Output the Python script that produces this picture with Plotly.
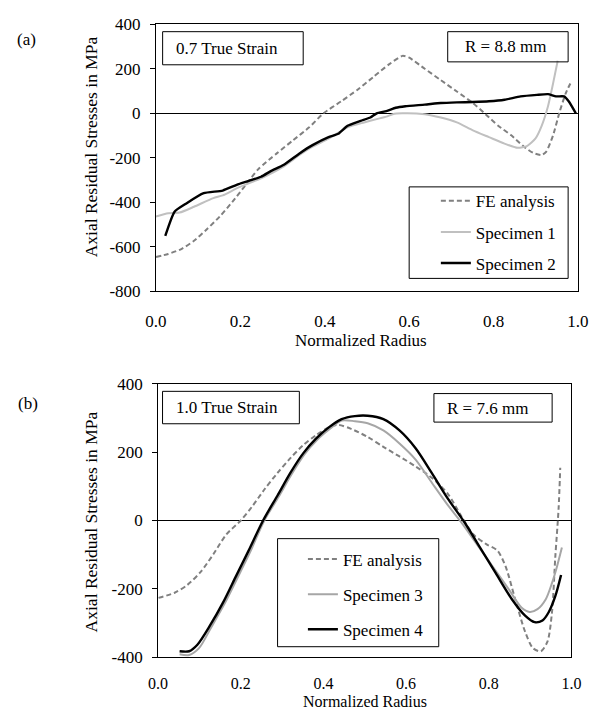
import plotly.graph_objects as go

# ---- panel (a): 0.7 true strain, R = 8.8 mm ----
fe_a_x = [0.0, 0.029, 0.06, 0.09, 0.12, 0.151, 0.181, 0.211, 0.242, 0.287, 0.325, 0.363, 0.397,
          0.439, 0.477, 0.515, 0.553, 0.584, 0.599, 0.637, 0.675, 0.713, 0.751, 0.781, 0.811,
          0.842, 0.872, 0.895, 0.914, 0.925, 0.941, 0.956, 0.971, 0.982]
fe_a_y = [-646, -632, -610, -573, -522, -464, -398, -326, -252, -179, -121, -63, 0,
          54, 105, 163, 221, 258, 251, 200, 149, 98, 46, -4, -56,
          -99, -150, -179, -187, -172, -99, 3, 90, 134]

sp1_x = [0.0, 0.029, 0.056, 0.09, 0.136, 0.158, 0.196, 0.249, 0.303, 0.341, 0.371, 0.409,
         0.454, 0.493, 0.523, 0.546, 0.561, 0.584, 0.637, 0.675, 0.713, 0.751, 0.789, 0.826,
         0.857, 0.88, 0.899, 0.914, 0.929, 0.941, 0.952]
sp1_y = [-464, -449, -446, -420, -381, -369, -333, -292, -238, -186, -150, -114,
         -63, -41, -26, -15, -4, 0, -4, -19, -41, -77, -107, -136,
         -155, -146, -114, -56, 32, 134, 236]

sp2_x = [0.022, 0.044, 0.071, 0.113, 0.158, 0.196, 0.249, 0.272, 0.303, 0.341, 0.371, 0.409,
         0.432, 0.454, 0.485, 0.508, 0.523, 0.546, 0.568, 0.591, 0.637, 0.675, 0.713, 0.751,
         0.789, 0.826, 0.864, 0.903, 0.929, 0.948, 0.967, 0.978, 0.995]
sp2_y = [-551, -442, -406, -359, -347, -318, -285, -260, -231, -179, -143, -107,
         -92, -56, -34, -19, 0, 10, 25, 32, 39, 46, 49, 51,
         54, 61, 76, 83, 86, 76, 76, 54, 0]

# ---- panel (b): 1.0 true strain, R = 7.6 mm ----
fe_b_x = [0.001, 0.04, 0.071, 0.103, 0.134, 0.165, 0.2, 0.227, 0.258, 0.289, 0.32, 0.351,
          0.382, 0.413, 0.437, 0.468, 0.507, 0.545, 0.584, 0.623, 0.662, 0.701, 0.732,
          0.763, 0.794, 0.821, 0.841, 0.864, 0.888, 0.907, 0.926, 0.942, 0.953, 0.961,
          0.969, 0.973]
fe_b_y = [-226, -211, -188, -150, -98, -41, 0, 40, 92, 139, 182, 220,
          249, 272, 279, 267, 244, 215, 187, 158, 125, 78, 16,
          -41, -69, -88, -135, -230, -325, -373, -382, -354, -268, -107,
          35, 154]

sp3_x = [0.052, 0.075, 0.099, 0.129, 0.16, 0.191, 0.222, 0.257, 0.292, 0.323, 0.354, 0.385,
         0.416, 0.444, 0.476, 0.507, 0.545, 0.584, 0.623, 0.662, 0.701, 0.732, 0.771,
         0.81, 0.849, 0.879, 0.899, 0.918, 0.938, 0.953, 0.965, 0.977]
sp3_y = [-391, -393, -373, -311, -245, -170, -94, 0, 70, 135, 193, 236,
         268, 292, 290, 284, 263, 225, 178, 111, 45, -3, -69,
         -135, -202, -254, -267, -259, -230, -183, -135, -79]

sp4_x = [0.052, 0.075, 0.095, 0.126, 0.157, 0.188, 0.219, 0.254, 0.289, 0.32, 0.351, 0.382,
         0.413, 0.444, 0.476, 0.507, 0.545, 0.584, 0.623, 0.662, 0.701, 0.74, 0.779,
         0.817, 0.856, 0.888, 0.911, 0.93, 0.945, 0.961, 0.975]
sp4_y = [-382, -382, -363, -306, -240, -164, -88, 0, 73, 139, 196, 239,
         272, 296, 305, 306, 296, 263, 211, 139, 64, -3, -79,
         -154, -230, -278, -297, -292, -268, -221, -159]

x_ticks = [0.0, 0.2, 0.4, 0.6, 0.8, 1.0]
x_tick_text = ["0.0", "0.2", "0.4", "0.6", "0.8", "1.0"]
y_ticks_a = [400, 200, 0, -200, -400, -600, -800]
y_ticks_b = [400, 200, 0, -200, -400]

W, H = 601, 720
FONT = "Liberation Serif, Times New Roman, serif"
FS = 17


def px_x(p):
    return p / W


def px_y(p):
    return 1 - p / H


# plot areas in pixels (left, right, top, bottom)
area_a = (150.5, 588.5, 15.7, 290.0)
area_b = (152.7, 581.7, 384.7, 666.0)
range_a = [-800, 400]
range_b = [-400, 400]

fig = go.Figure()

fig.add_trace(go.Scatter(x=fe_a_x, y=fe_a_y, name="FE analysis", mode="lines",
                         line=dict(color="#808080", width=2, dash="5px,3px", shape="spline", smoothing=0.6),
                         xaxis="x", yaxis="y", legend="legend", legendgroup="a1"))
fig.add_trace(go.Scatter(x=sp1_x, y=sp1_y, name="Specimen 1", mode="lines",
                         line=dict(color="#c0c0c0", width=2, shape="spline", smoothing=0.6),
                         xaxis="x", yaxis="y", legend="legend", legendgroup="a2"))
fig.add_trace(go.Scatter(x=sp2_x, y=sp2_y, name="Specimen 2", mode="lines",
                         line=dict(color="#000000", width=2.4, shape="spline", smoothing=0.5),
                         xaxis="x", yaxis="y", legend="legend", legendgroup="a3"))

fig.add_trace(go.Scatter(x=fe_b_x, y=fe_b_y, name="FE analysis", mode="lines",
                         line=dict(color="#808080", width=2, dash="5px,3px", shape="spline", smoothing=0.8),
                         xaxis="x2", yaxis="y2", legend="legend2", legendgroup="b1"))
fig.add_trace(go.Scatter(x=sp3_x, y=sp3_y, name="Specimen 3", mode="lines",
                         line=dict(color="#a6a6a6", width=2, shape="spline", smoothing=0.8),
                         xaxis="x2", yaxis="y2", legend="legend2", legendgroup="b2"))
fig.add_trace(go.Scatter(x=sp4_x, y=sp4_y, name="Specimen 4", mode="lines",
                         line=dict(color="#000000", width=2.4, shape="spline", smoothing=0.8),
                         xaxis="x2", yaxis="y2", legend="legend2", legendgroup="b3"))


def xaxis_cfg(area, standoff, size):
    return dict(domain=[px_x(area[0]), px_x(area[1])], range=[0, 1],
                tickvals=x_ticks, ticktext=x_tick_text, ticks="", ticklabelstandoff=standoff,
                showline=True, mirror=True, linecolor="black", linewidth=1,
                showgrid=False, zeroline=False, fixedrange=True,
                tickfont=dict(family=FONT, size=size, color="black"))


def yaxis_cfg(area, rng, ticks, anchor):
    return dict(domain=[px_y(area[3]), px_y(area[2])], range=rng, anchor=anchor,
                tickvals=ticks, ticktext=[str(t) for t in ticks],
                ticks="outside", ticklen=5, tickcolor="black", ticklabelstandoff=6,
                showline=True, mirror=True, linecolor="black", linewidth=1,
                showgrid=False, zeroline=True, zerolinecolor="black", zerolinewidth=1,
                tickfont=dict(family=FONT, size=FS, color="black"))


def zero_ticks(area, rng, overlay):
    # tick marks hanging from the zero line, as in the Excel original
    lo, hi = px_y(area[3]), px_y(area[2])
    pos = lo + (0 - rng[0]) / (rng[1] - rng[0]) * (hi - lo)
    return dict(overlaying=overlay, anchor="free", position=pos, range=[0, 1],
                domain=[px_x(area[0]), px_x(area[1])],
                tickvals=[0.2, 0.4, 0.6, 0.8], ticks="outside", ticklen=5, tickcolor="black",
                showticklabels=False, showline=False, showgrid=False, zeroline=False)


fig.update_layout(
    width=W, height=H,
    margin=dict(l=0, r=0, t=0, b=0),
    paper_bgcolor="white", plot_bgcolor="white",
    font=dict(family=FONT, size=FS, color="black"),
    xaxis=xaxis_cfg(area_a, 14, FS),
    yaxis=yaxis_cfg(area_a, range_a, y_ticks_a, "x"),
    xaxis2=dict(xaxis_cfg(area_b, 11, 16), anchor="y2"),
    yaxis2=yaxis_cfg(area_b, range_b, y_ticks_b, "x2"),
    xaxis3=zero_ticks(area_a, range_a, "x"),
    xaxis4=zero_ticks(area_b, range_b, "x2"),
    legend=dict(x=px_x(441), y=px_y(179), xanchor="left", yanchor="top",
                bgcolor="rgba(0,0,0,0)", borderwidth=0, tracegroupgap=6,
                font=dict(family=FONT, size=FS, color="black")),
    legend2=dict(x=px_x(303), y=px_y(547), xanchor="left", yanchor="top",
                 bgcolor="rgba(0,0,0,0)", borderwidth=0, tracegroupgap=10,
                 font=dict(family=FONT, size=FS, color="black")),
    showlegend=True,
)
fig.layout.xaxis.anchor = "y"

# boxes around the text labels and legends
boxes = [(157.4, 303.3, 23.3, 57.3), (453.3, 578.3, 23.3, 54.3), (413.3, 578.3, 182.7, 276.7),
         (157.3, 299.3, 392.7, 426.0), (439.0, 561.7, 395.0, 424.3), (276.7, 444.0, 544.0, 655.0)]
for x0, x1, y0, y1 in boxes:
    fig.add_shape(type="rect", xref="paper", yref="paper",
                  x0=px_x(x0), x1=px_x(x1), y0=px_y(y1), y1=px_y(y0),
                  line=dict(color="black", width=1), fillcolor="rgba(0,0,0,0)", layer="above")

labels = [("0.7 True Strain", 169, 40.3, "left", 0, FS),
          ("R = 8.8 mm", 469, 38.7, "left", 0, FS),
          ("1.0 True Strain", 169.5, 409.5, "left", 0, FS),
          ("R = 7.6 mm", 451, 410.5, "left", 0, FS),
          ("(a)", 16, 31, "center", 0, FS),
          ("(b)", 18, 405.7, "center", 0, FS),
          ("Normalized Radius", 363.8, 340, "center", 0, FS),
          ("Normalized Radius", 367.7, 711.5, "center", 0, 16),
          ("Axial Residual Stresses in MPa", 82.6, 141.5, "center", -90, 17.5),
          ("Axial Residual Stresses in MPa", 82.6, 526.7, "center", -90, 17.5)]
for text, x, y, anchor, angle, size in labels:
    fig.add_annotation(text=text, xref="paper", yref="paper", x=px_x(x), y=px_y(y),
                       xanchor=anchor, yanchor="middle", textangle=angle, showarrow=False,
                       font=dict(family=FONT, size=size, color="black"))

# drop the browser's default body margin so the figure sits at the page origin
fig.write_html("out.html", config={"displayModeBar": False},
               post_script="document.body.style.margin = '0';")
